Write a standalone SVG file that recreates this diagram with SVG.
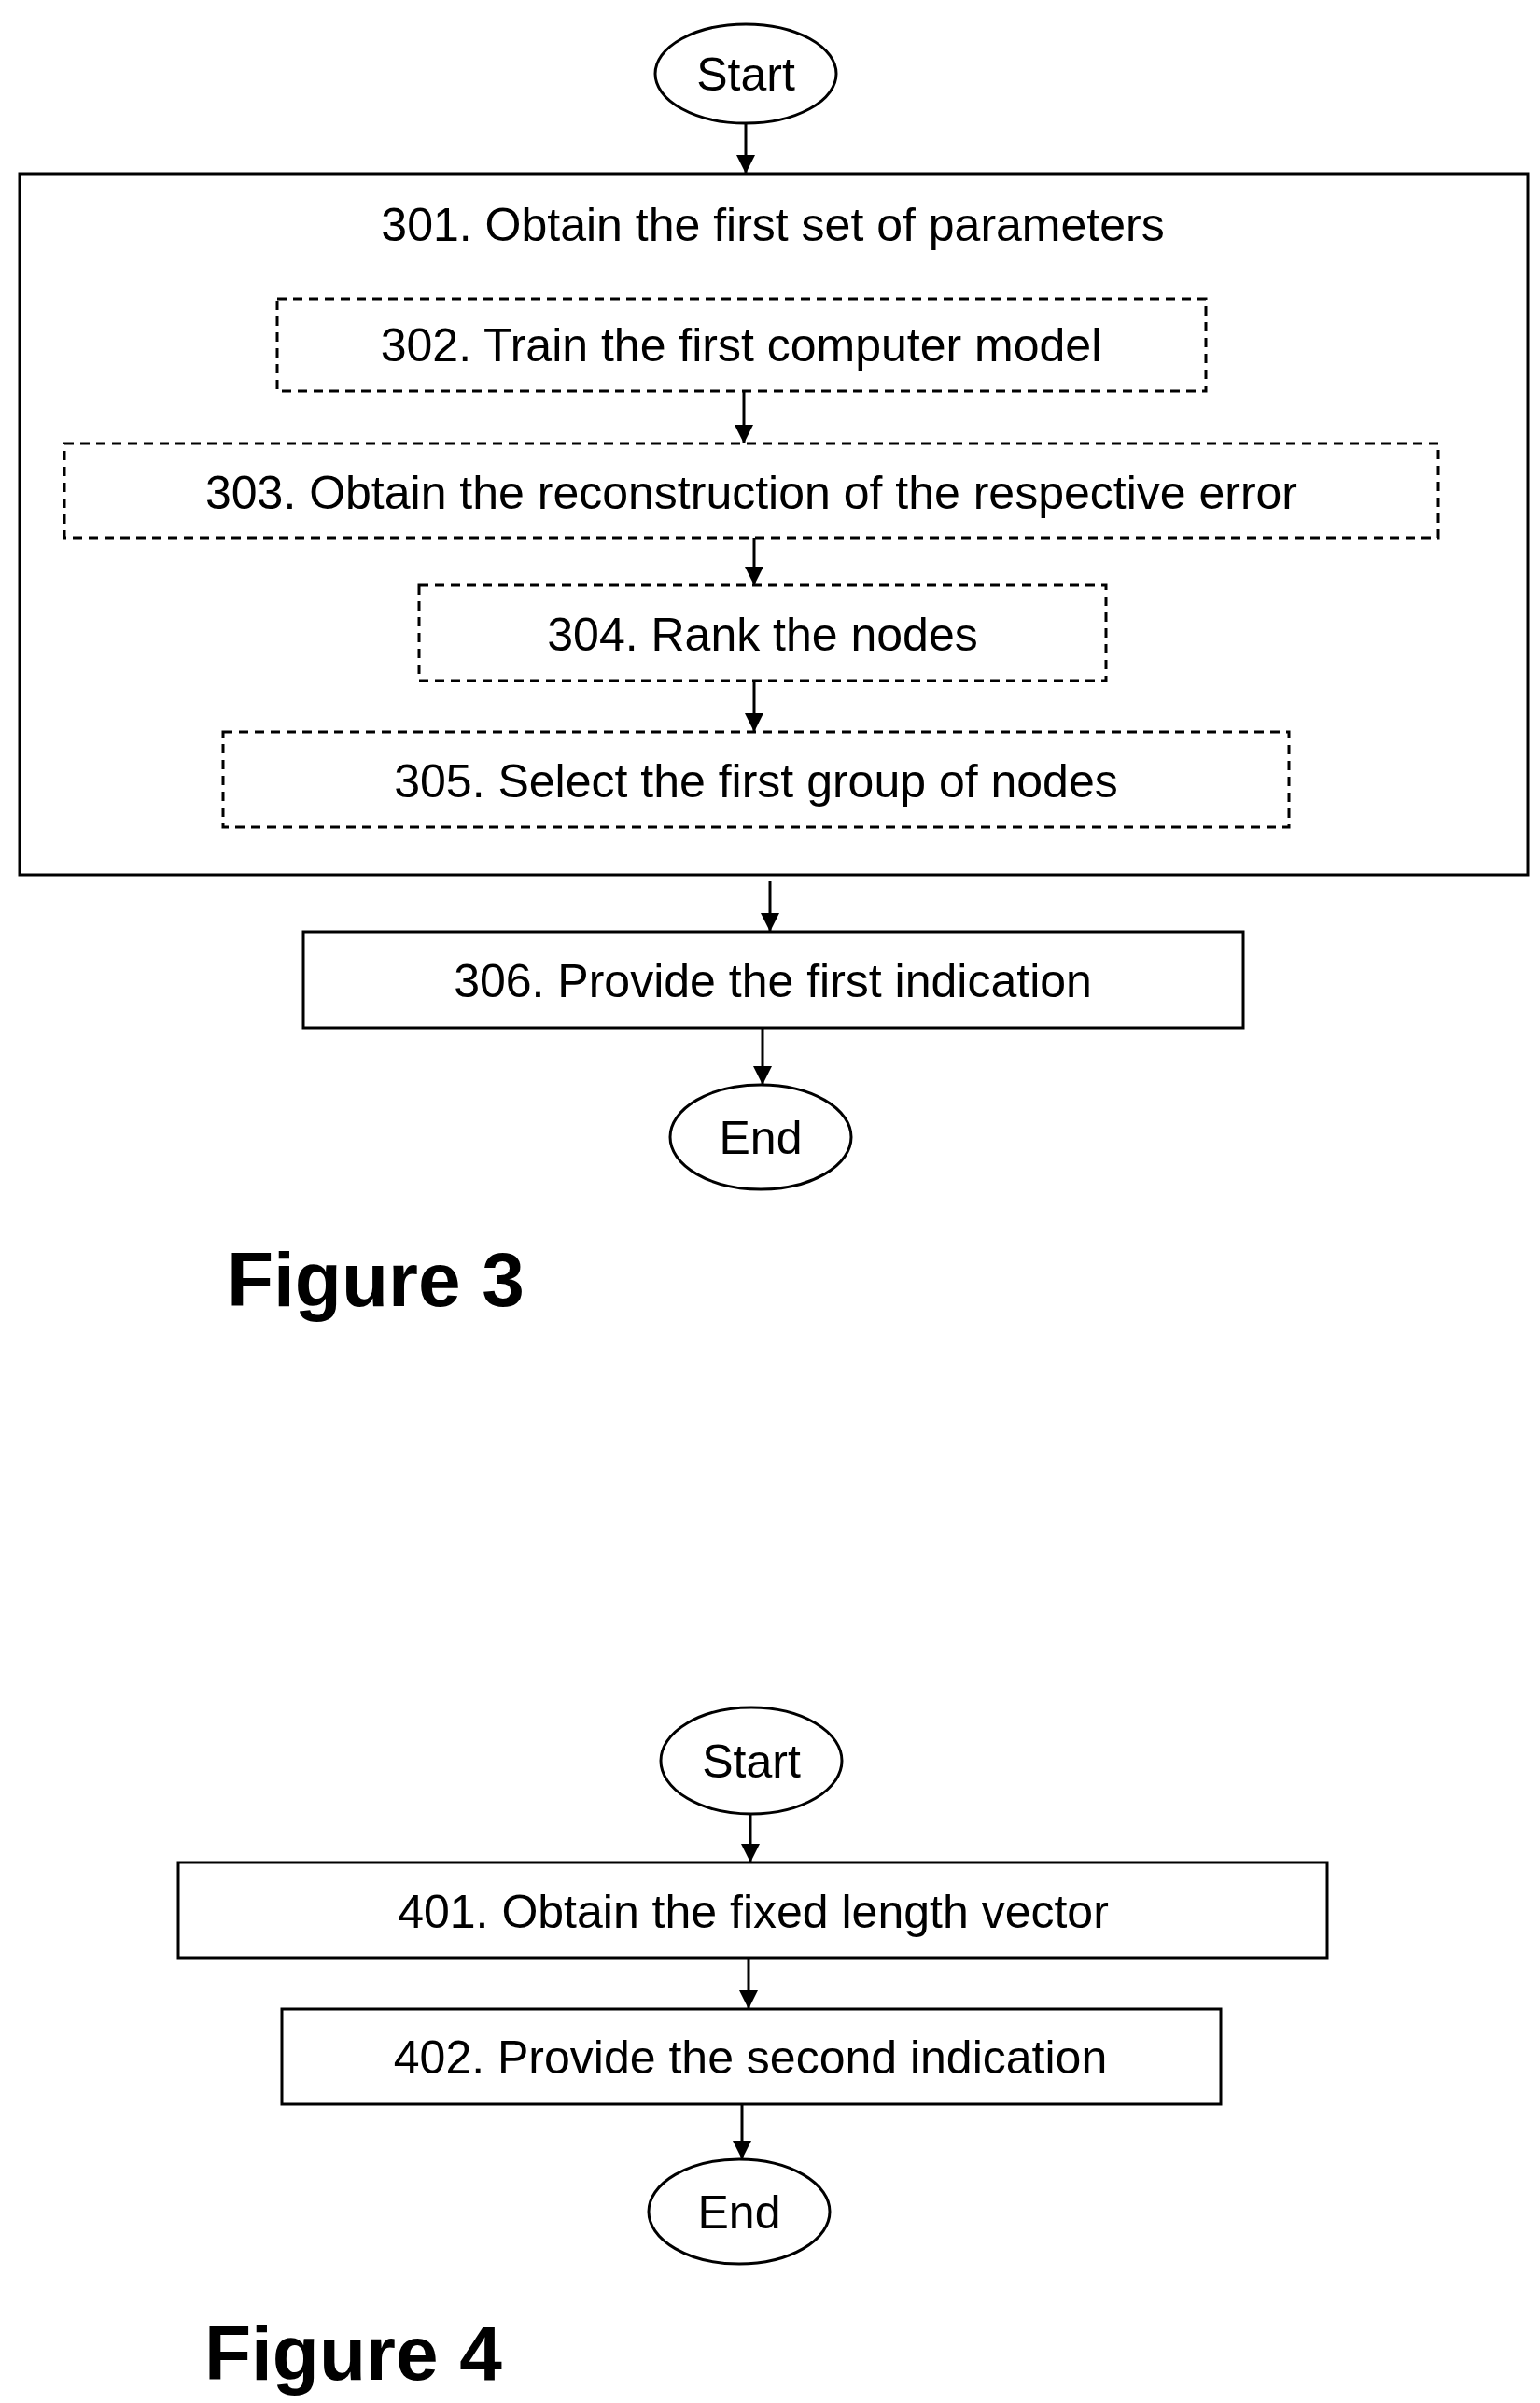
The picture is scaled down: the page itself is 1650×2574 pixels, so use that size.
<svg xmlns="http://www.w3.org/2000/svg" width="1650" height="2574" viewBox="0 0 1650 2574">
<style>
.s{fill:#fff;stroke:#000;stroke-width:3}
.d{fill:#fff;stroke:#000;stroke-width:3;stroke-dasharray:10,7}
.t{font-family:"Liberation Sans",Arial,sans-serif;font-size:50px;text-anchor:middle;fill:#000}
.f{font-family:"Liberation Sans",Arial,sans-serif;font-size:82px;font-weight:bold;fill:#000}
.c{stroke:#000;stroke-width:3;fill:none;marker-end:url(#a)}
</style>
<defs><marker id="a" markerWidth="10" markerHeight="10" refX="9" refY="5" orient="auto" markerUnits="userSpaceOnUse" viewBox="0 0 10 10"><path d="M0,0 L10,5 L0,10 z" fill="#000" transform="scale(1)"/></marker>
<marker id="b" viewBox="0 0 10 10" refX="10" refY="5" markerWidth="20" markerHeight="24" orient="auto" markerUnits="userSpaceOnUse"><path d="M0,0 L10,5 L0,10 z" fill="#000"/></marker></defs>
<rect width="1650" height="2574" fill="#fff"/>
<g id="start3"><ellipse class="s" cx="799" cy="79" rx="97" ry="53"/><text class="t" x="799" y="97">Start</text></g>
<g id="n301"><rect class="s" x="21" y="186" width="1616" height="751"/><text class="t" x="828" y="258">301. Obtain the first set of parameters</text></g>
<g id="n302"><rect class="d" x="297" y="320" width="995" height="99"/><text class="t" x="794" y="387">302. Train the first computer model</text></g>
<g id="n303"><rect class="d" x="69" y="475" width="1472" height="101"/><text class="t" x="805" y="545">303. Obtain the reconstruction of the respective error</text></g>
<g id="n304"><rect class="d" x="449" y="627" width="736" height="102"/><text class="t" x="817" y="697">304. Rank the nodes</text></g>
<g id="n305"><rect class="d" x="239" y="784" width="1142" height="102"/><text class="t" x="810" y="854">305. Select the first group of nodes</text></g>
<g id="n306"><rect class="s" x="325" y="998" width="1007" height="103"/><text class="t" x="828" y="1068">306. Provide the first indication</text></g>
<g id="end3"><ellipse class="s" cx="815" cy="1218" rx="97" ry="56"/><text class="t" x="815" y="1236">End</text></g>
<text class="f" x="243" y="1399">Figure 3</text>
<g id="start4"><ellipse class="s" cx="805" cy="1886" rx="97" ry="57"/><text class="t" x="805" y="1904">Start</text></g>
<g id="n401"><rect class="s" x="191" y="1995" width="1231" height="102"/><text class="t" x="807" y="2065">401. Obtain the fixed length vector</text></g>
<g id="n402"><rect class="s" x="302" y="2152" width="1006" height="102"/><text class="t" x="804" y="2221">402. Provide the second indication</text></g>
<g id="end4"><ellipse class="s" cx="792" cy="2369" rx="97" ry="56"/><text class="t" x="792" y="2387">End</text></g>
<text class="f" x="219" y="2549">Figure 4</text>
<g id="connectors" stroke="#000" stroke-width="3" fill="none">
<line x1="799" y1="132" x2="799" y2="186" marker-end="url(#b)"/>
<line x1="797" y1="419" x2="797" y2="475" marker-end="url(#b)"/>
<line x1="808" y1="576" x2="808" y2="627" marker-end="url(#b)"/>
<line x1="808" y1="729" x2="808" y2="784" marker-end="url(#b)"/>
<line x1="825" y1="944" x2="825" y2="998" marker-end="url(#b)"/>
<line x1="817" y1="1101" x2="817" y2="1162" marker-end="url(#b)"/>
<line x1="804" y1="1943" x2="804" y2="1995" marker-end="url(#b)"/>
<line x1="802" y1="2097" x2="802" y2="2152" marker-end="url(#b)"/>
<line x1="795" y1="2254" x2="795" y2="2313" marker-end="url(#b)"/>
</g>
</svg>
